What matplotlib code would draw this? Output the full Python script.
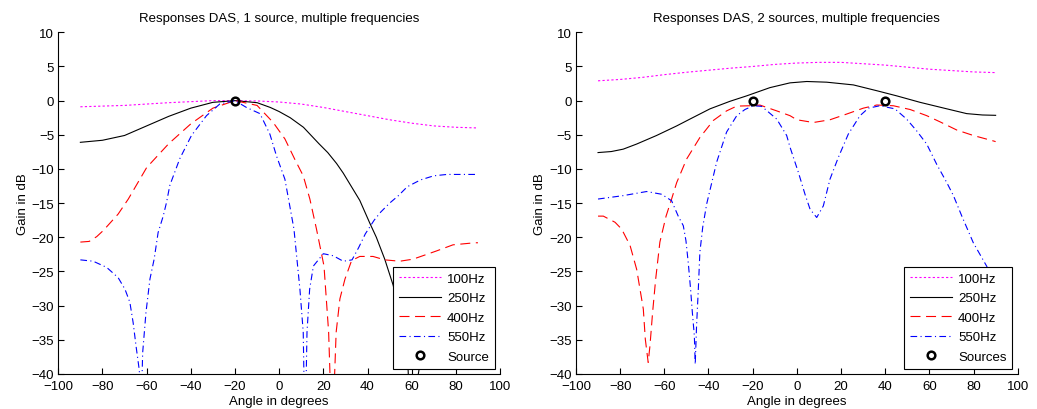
"""
DAS beam responses: 1 source vs 2 sources at several frequencies.
Values read off the reference picture (gain in dB vs steering angle).
"""

import matplotlib

matplotlib.use("Agg")
import matplotlib.pyplot as plt

# ── 1 source (left panel) ─────────────────────────────────────────────
ang_100_1 = [-90, -80, -70, -60, -50, -40, -30, -20, -10, 0, 10, 20, 30, 40, 50, 60, 70, 80, 90]
gain_100_1 = [-0.9, -0.8, -0.7, -0.5, -0.3, -0.15, 0.0, 0.0, -0.05, -0.2, -0.5, -1.0,
              -1.6, -2.2, -2.8, -3.3, -3.7, -3.9, -4.0]

ang_250_1 = [-90, -80, -70, -60, -50, -40, -30, -20, -10, -4, 0, 5, 11, 18, 22, 26, 29,
             32, 36.5, 41, 44, 47.8, 51.6, 55, 58.4, 59.5, 61, 65, 70, 80, 90]
gain_250_1 = [-6.1, -5.8, -5.1, -3.7, -2.3, -1.1, -0.25, 0.0, -0.3, -1.0, -1.6, -2.5,
              -3.9, -6.3, -7.6, -9.2, -10.6, -12.2, -14.6, -17.9, -20.0, -23.2, -27.0,
              -32.0, -39.5, -50.0, -44.0, -36.0, -32.0, -29.0, -28.0]

ang_400_1 = [-90, -86, -82.6, -79.6, -72.9, -68.3, -60, -50, -40, -30, -20, -10, -2.7,
             2.6, 7.1, 10.9, 13.9, 16.9, 20.3, 22.4, 24, 25.8, 27.5, 29.8, 32.8, 36.5,
             42.5, 47.8, 54.6, 60.6, 71.2, 78.7, 88.5, 90]
gain_400_1 = [-20.7, -20.6, -19.9, -19.0, -16.6, -14.4, -9.8, -6.3, -3.4, -1.1, 0.0,
              -0.7, -3.2, -5.6, -8.6, -11.0, -14.4, -18.8, -24.2, -33.9, -50.0, -33.9,
              -29.0, -26.1, -23.4, -22.8, -22.8, -23.3, -23.5, -23.2, -22.0, -21.1,
              -20.8, -20.8]

ang_550_1 = [-90, -84.2, -78.1, -72.9, -69.8, -67.6, -66.1, -64.8, -63.3, -62.8, -61.8,
             -60.3, -58.5, -56.6, -54.8, -52.5, -51, -49.5, -45, -39.7, -32.9, -26.9,
             -20, -14.8, -8.7, -4.2, -1.2, 2.6, 4.8, 6.7, 9.4, 10.9, 11.7, 12.6, 13.8,
             15.5, 20, 24.5, 29, 33, 36, 39, 43, 46, 50, 54, 58, 64, 70, 76, 90]
gain_550_1 = [-23.3, -23.5, -24.4, -25.9, -27.6, -29.5, -32.5, -35.9, -39.5, -50.0,
              -36.9, -31.0, -26.1, -23.2, -19.3, -16.9, -14.9, -12.4, -8.5, -5.1, -2.2,
              -0.5, 0.0, -1.0, -1.9, -4.9, -8.1, -11.5, -15.4, -18.8, -27.6, -33.9,
              -50.0, -33.9, -27.6, -24.2, -22.4, -22.7, -23.5, -23.3, -21.5, -19.5,
              -17.5, -16.3, -15.0, -13.9, -12.6, -11.6, -11.0, -10.8, -10.8]

source_1 = [-20]

# ── 2 sources (right panel) ───────────────────────────────────────────
ang_100_2 = [-90, -80, -70, -60, -50, -40, -30, -20, -10, 0, 10, 20, 30, 40, 50, 60, 70, 80, 90]
gain_100_2 = [2.9, 3.1, 3.4, 3.8, 4.15, 4.45, 4.75, 5.0, 5.3, 5.5, 5.6, 5.6, 5.4, 5.2,
              4.9, 4.6, 4.4, 4.2, 4.1]

ang_250_2 = [-90, -84, -78.6, -72.5, -63.5, -54.4, -48.4, -39.3, -30.3, -22.7, -12.2,
             -3.1, 4.5, 13.5, 25.6, 36.2, 45.2, 55.8, 67.9, 76.9, 84, 90]
gain_250_2 = [-7.6, -7.45, -7.1, -6.35, -5.1, -3.7, -2.7, -1.2, -0.1, 0.7, 1.9, 2.6,
              2.8, 2.7, 2.3, 1.45, 0.7, -0.25, -1.2, -1.9, -2.1, -2.15]

ang_400_2 = [-90, -87.6, -82.3, -79.3, -75.5, -72.5, -71, -69.5, -68.6, -67.3, -66.5,
             -65.3, -63.9, -62, -59.2, -56.7, -54.4, -49.9, -43.9, -37.8, -31.8, -27.2,
             -21.2, -16.7, -9.1, -3.1, 0, 7.5, 15, 22.6, 30.1, 36.2, 43.7, 51.3, 58.8,
             64.8, 72.4, 79.9, 89, 90]
gain_400_2 = [-16.9, -16.9, -17.8, -18.8, -21.2, -24.7, -27.6, -30.5, -34.9, -38.3,
              -35.9, -31.0, -26.1, -20.7, -16.9, -14.4, -12.0, -8.55, -5.4, -2.9, -1.5,
              -0.8, -0.75, -0.65, -1.5, -2.2, -2.8, -3.2, -2.8, -1.96, -1.1, -0.64,
              -0.75, -1.3, -2.2, -3.1, -4.3, -5.1, -5.9, -6.0]

ang_550_2 = [-90, -78.6, -68, -61.2, -56.7, -53.7, -51.4, -50.2, -49.1, -48.1, -47.3,
             -46.4, -46, -45.4, -44.6, -43.9, -42.6, -40.8, -36.3, -31.8, -27.2, -23.5,
             -19.7, -15.9, -9.1, -4.6, -3.1, 0.7, 3.7, 6, 9, 12, 15, 18.8, 23.3, 28.6,
             32.4, 37.6, 44.4, 49.7, 54.2, 58.8, 63.3, 67.9, 70.9, 74.7, 79.9, 85.9, 90]
gain_550_2 = [-14.4, -13.9, -13.3, -13.7, -14.65, -16.9, -18.3, -20.5, -23.9, -27.6,
              -31.0, -34.4, -38.6, -33.0, -27.6, -22.2, -18.5, -15.1, -9.0, -4.6, -2.2,
              -1.3, -0.75, -0.84, -2.7, -5.1, -6.8, -10.5, -13.7, -15.9, -17.1, -15.4,
              -11.5, -8.3, -4.9, -2.2, -1.1, -0.75, -1.2, -2.7, -4.4, -6.35, -9.3,
              -12.0, -13.9, -16.9, -20.8, -24.2, -27.0]

sources_2 = [-20, 40]

freq_labels = ["100Hz", "250Hz", "400Hz", "550Hz"]
x_ticks = list(range(-100, 101, 20))
y_ticks = list(range(-40, 11, 5))

FONT = "Liberation Sans"
FS = 9.5


def style_axes(ax, title):
    ax.set_xlim(-100, 100)
    ax.set_ylim(-40, 10)
    ax.set_xticks(x_ticks)
    ax.set_yticks(y_ticks)
    ax.spines["top"].set_visible(False)
    ax.spines["right"].set_visible(False)
    for s in ("left", "bottom"):
        ax.spines[s].set_linewidth(0.8)
    ax.tick_params(direction="in", length=4, width=0.8, labelsize=FS, pad=3)
    ax.tick_params(axis="x", pad=4.5)
    ax.set_title(title, fontsize=FS, pad=8)
    ax.set_xlabel("Angle in degrees", fontsize=FS, labelpad=2)
    ax.set_ylabel("Gain in dB", fontsize=FS, labelpad=2)


def draw_panel(ax, series, marks, mark_label, title):
    styles = [
        dict(color="#ff00ff", dashes=(2.0, 2.0)),
        dict(color="black", linestyle="-"),
        dict(color="#ff0000", dashes=(9, 5)),
        dict(color="#0000ff", dashes=(6, 3, 1, 3)),
    ]
    for (ang, gain), lab, st in zip(series, freq_labels, styles):
        ax.plot(ang, gain, lw=0.8, label=lab, **st)
    ax.plot(marks, [0] * len(marks), linestyle="none", marker="o", ms=5.5,
            mfc="none", mec="black", mew=1.8, label=mark_label)
    style_axes(ax, title)
    leg = ax.legend(loc="lower right", fontsize=FS, fancybox=False, framealpha=1,
                    edgecolor="black", borderaxespad=0.4, handlelength=3.2,
                    labelspacing=0.55, borderpad=0.45, handletextpad=0.45)
    leg.get_frame().set_linewidth(0.8)


def main():
    plt.rcParams["font.family"] = [FONT, "DejaVu Sans"]
    fig = plt.figure(figsize=(10.37, 4.10), dpi=100)

    ax1 = fig.add_axes([0.0562, 0.0854, 0.426, 0.8334])
    ax2 = fig.add_axes([0.5554, 0.0854, 0.426, 0.8334])

    draw_panel(ax1,
               [(ang_100_1, gain_100_1), (ang_250_1, gain_250_1),
                (ang_400_1, gain_400_1), (ang_550_1, gain_550_1)],
               source_1, "Source",
               "Responses DAS, 1 source, multiple frequencies")
    draw_panel(ax2,
               [(ang_100_2, gain_100_2), (ang_250_2, gain_250_2),
                (ang_400_2, gain_400_2), (ang_550_2, gain_550_2)],
               sources_2, "Sources",
               "Responses DAS, 2 sources, multiple frequencies")

    fig.savefig("out.png", dpi=100)


if __name__ == "__main__":
    main()
